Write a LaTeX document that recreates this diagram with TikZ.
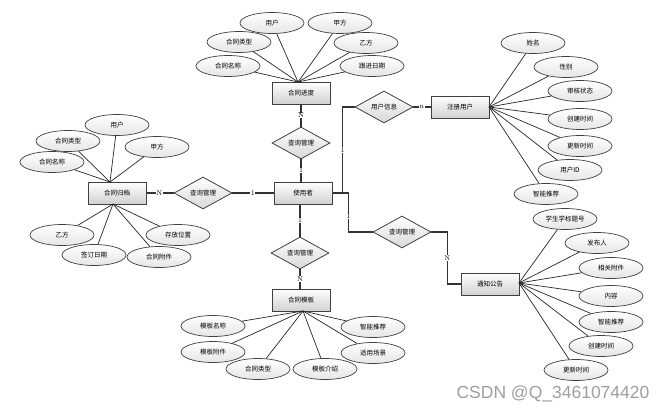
\documentclass[tikz,border=0pt]{standalone}
\usepackage{fontspec}
\newfontfamily\cjk{Noto Sans CJK SC}
\newfontfamily\wmfont{Liberation Sans}
\usepackage{tikz}
\usetikzlibrary{shapes.geometric}
\tikzset{
  entity/.style={draw=black!75, line width=1, top color=white, bottom color=black!18, minimum width=58, minimum height=22, inner sep=0, font=\cjk\fontsize{6.5}{7}\selectfont},
  attr/.style={ellipse, draw=black!75, line width=.7, top color=white, bottom color=black!10, minimum width=64, minimum height=21, inner sep=0, font=\cjk\fontsize{6.5}{7}\selectfont},
  rel/.style={diamond, draw=black!75, line width=.8, top color=white, bottom color=black!15, minimum width=58, minimum height=32, inner sep=0, font=\cjk\fontsize{6.5}{7}\selectfont},
  card/.style={fill=white, inner sep=.5, font=\fontsize{7}{7}\selectfont},
  link/.style={draw=black!80, line width=1.1},
  prop/.style={draw=black!85, line width=.7}
}
\begin{document}
\begin{tikzpicture}[x=1pt,y=-1pt]
\useasboundingbox (0,0) rectangle (666,412);
% entities
\node[entity] (user) at (303,193) {使用者};
\node[entity] (prog) at (301,93) {合同进度};
\node[entity] (arch) at (117,193) {合同归档};
\node[entity] (tmpl) at (301,300) {合同模板};
\node[entity] (reg) at (460,107) {注册用户};
\node[entity] (note) at (490,284) {通知公告};
% relationships
\node[rel] (qtop) at (301,143) {查询管理};
\node[rel] (qleft) at (203,193) {查询管理};
\node[rel] (qbot) at (300,253) {查询管理};
\node[rel] (info) at (384,107) {用户信息};
\node[rel] (qright) at (402,232) {查询管理};
\draw[link] (prog.south) -- (qtop.north) node[card,midway]{N};
\draw[link] (qtop.south) -- (qtop.south |- user.north) node[card,midway]{1};
\draw[link] (arch.east) -- (qleft.west) node[card,pos=.47]{N};
\draw[link] (qleft.east) -- (user.west) node[card,midway]{1};
\draw[link] (qbot.north |- user.south) -- (qbot.north) node[card,midway]{1};
\draw[link] (qbot.south) -- (qbot.south |- tmpl.north) node[card,midway]{N};
\draw[link] (user.east) -- ++(10,0) |- (info.west) node[card,pos=.25]{1};
\draw[link] (info.east) -- (reg.west) node[card,midway]{n};
\draw[link] (user.east) -- ++(16,0) |- (qright.west) node[card,pos=.3]{1};
\draw[link] (qright.east) -- ++(16,0) |- (note.west) node[card,pos=.25]{N};
% contract progress
\coordinate (hp) at (298,82);
\node[attr] (p1) at (272,23) {用户};
\node[attr] (p2) at (340,23) {甲方};
\node[attr] (p3) at (239,42) {合同类型};
\node[attr] (p4) at (366,43) {乙方};
\node[attr] (p5) at (228,66) {合同名称};
\node[attr] (p6) at (372,66) {跟进日期};
\foreach \i in {1,...,6} \draw[prop] (hp) -- (p\i);
% contract archive
\coordinate (ha) at (110,182);
\coordinate (hb) at (113,204);
\node[attr] (a1) at (117,125) {用户};
\node[attr] (a2) at (68,141) {合同类型};
\node[attr] (a3) at (157,147) {甲方};
\node[attr] (a4) at (52,162) {合同名称};
\node[attr] (a5) at (62,235) {乙方};
\node[attr] (a6) at (94,255) {签订日期};
\node[attr] (a7) at (178,235) {存放位置};
\node[attr] (a8) at (159,257) {合同附件};
\foreach \i in {1,...,4} \draw[prop] (ha) -- (a\i);
\foreach \i in {5,...,8} \draw[prop] (hb) -- (a\i);
% registered user
\coordinate (hr) at (489,107);
\node[attr] (r1) at (533,43) {姓名};
\node[attr] (r2) at (566,67) {性别};
\node[attr] (r3) at (580,91) {审核状态};
\node[attr] (r4) at (580,119) {创建时间};
\node[attr] (r5) at (580,146) {更新时间};
\node[attr] (r6) at (570,170) {用户ID};
\node[attr] (r7) at (546,194) {智能推荐};
\foreach \i in {1,...,7} \draw[prop] (hr) -- (r\i);
% notice
\coordinate (hn) at (519,283);
\node[attr] (n1) at (565,219) {学生学标题号};
\node[attr] (n2) at (597,243) {发布人};
\node[attr] (n3) at (611,268) {相关附件};
\node[attr] (n4) at (611,296) {内容};
\node[attr] (n5) at (611,322) {智能推荐};
\node[attr] (n6) at (601,346) {创建时间};
\node[attr] (n7) at (576,370) {更新时间};
\foreach \i in {1,...,7} \draw[prop] (hn) -- (n\i);
% template
\coordinate (ht) at (303,311);
\node[attr] (t1) at (213,326) {模板名称};
\node[attr] (t2) at (213,352) {模板附件};
\node[attr] (t3) at (258,369) {合同类型};
\node[attr] (t4) at (325,369) {模板介绍};
\node[attr] (t5) at (373,327) {智能推荐};
\node[attr] (t6) at (373,353) {适用场景};
\foreach \i in {1,...,6} \draw[prop] (ht) -- (t\i);
\node[text=black!38, font=\wmfont\fontsize{17.5}{18}\selectfont] (wm) at (553,394) {CSDN @Q\_3461074420};
\end{tikzpicture}
\end{document}
